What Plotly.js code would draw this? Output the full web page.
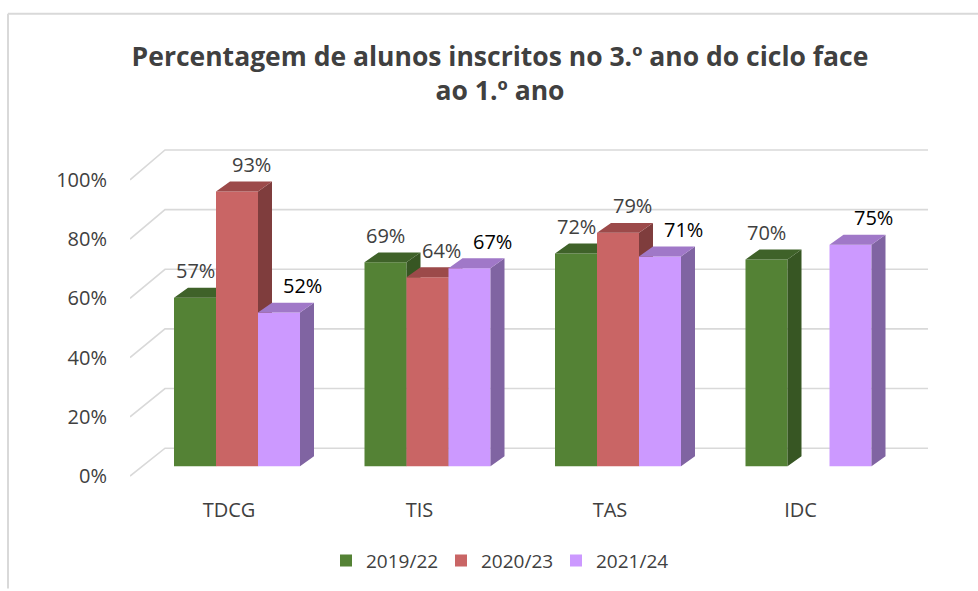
<!DOCTYPE html>
<html><head><meta charset="utf-8">
<script src="https://cdn.plot.ly/plotly-3.0.1.min.js"></script>
<style>html,body{margin:0;padding:0;background:#fff;}</style>
</head><body><div id="chart" style="width:978px;height:591px;"></div>
<script>
// ---------------- DATA ----------------
const categories = ['TDCG', 'TIS', 'TAS', 'IDC'];
const seriesNames = ['2019/22', '2020/23', '2021/24'];
const values2019 = [57, 69, 72, 70];
const values2020 = [93, 64, 79, null];
const values2021 = [52, 67, 71, 75];
const yTickVals = [0, 20, 40, 60, 80, 100];
const yTickText = ['0%', '20%', '40%', '60%', '80%', '100%'];

// ---------------- STYLE ----------------
const FONT = 'Open Sans, Noto Sans, sans-serif';
const TEXT = '#404040';
const seriesValues = [values2019, values2020, values2021];
const faceColors = [
  {front: '#548235', side: '#375623', top: '#3f6229', label: '#404040', lx: 0},
  {front: '#c96565', side: '#7f3d3d', top: '#9c4a4a', label: '#404040', lx: 14},
  {front: '#cc99ff', side: '#8064a2', top: '#a078c8', label: '#000000', lx: 23}
];

// plot-area geometry (pixel scale of the axes)
const PX_PER_CAT = 190.5;          // px per category unit
const PX_PER_PCT = 2.97;           // px per percent on bar scale
const BAR_W = 42 / PX_PER_CAT;     // bar width in category units
const DEPTH_X = 14 / PX_PER_CAT;   // 3D depth offset
const DEPTH_Y = 10 / PX_PER_PCT;
const X_RANGE = [-0.56168, 3.63780];
const Y_RANGE = [-7.4074, 110.438];
const Y2_RANGE = [-4.0268, 113.4228];

const traces = [];

// 3D gridlines (front-left diagonal + back wall line) built from tick values
(function () {
  const gx = [], gy = [];
  const xFront = X_RANGE[0], xBack = -72 / PX_PER_CAT, xEnd = 691 / PX_PER_CAT;
  yTickVals.forEach(v => {
    const yFront = (2.98 * v - 10) / PX_PER_PCT;
    const yBack = (18 + 3 * v) / PX_PER_PCT;
    gx.push(xFront, xBack, xEnd, null);
    gy.push(yFront, yBack, yBack, null);
  });
  traces.push({type: 'scatter', mode: 'lines', x: gx, y: gy, line: {color: '#d9d9d9', width: 1.6},
    hoverinfo: 'skip', showlegend: false});
})();

// 3D bars: front, side and top faces per series, drawn in series order
seriesValues.forEach((vals, s) => {
  const fx = [], fy = [], sx = [], sy = [], tx = [], ty = [];
  vals.forEach((v, i) => {
    if (v === null || v === undefined) return;
    const x0 = i + (s - 1.5) * BAR_W, x1 = x0 + BAR_W;
    fx.push(x0, x1, x1, x0, x0, null); fy.push(0, 0, v, v, 0, null);
    sx.push(x1, x1 + DEPTH_X, x1 + DEPTH_X, x1, x1, null);
    sy.push(0, DEPTH_Y, v + DEPTH_Y, v, 0, null);
    tx.push(x0, x1, x1 + DEPTH_X, x0 + DEPTH_X, x0, null);
    ty.push(v, v, v + DEPTH_Y, v + DEPTH_Y, v, null);
  });
  const c = faceColors[s];
  [[fx, fy, c.front], [sx, sy, c.side], [tx, ty, c.top]].forEach(([xx, yy, col]) => {
    traces.push({type: 'scatter', mode: 'lines', x: xx, y: yy, fill: 'toself', fillcolor: col,
      line: {width: 0, color: col}, hoverinfo: 'skip', showlegend: false});
  });
});

// legend entries
seriesNames.forEach((n, s) => {
  traces.push({type: 'bar', x: [null], y: [null], name: n, marker: {color: faceColors[s].front}});
});
// invisible trace to activate y2 axis
traces.push({type: 'scatter', x: [null], y: [null], yaxis: 'y2', showlegend: false, hoverinfo: 'skip'});

// data labels
const annotations = [];
seriesValues.forEach((vals, s) => {
  vals.forEach((v, i) => {
    if (v === null || v === undefined) return;
    const xc = i + (s - 1) * BAR_W + faceColors[s].lx / PX_PER_CAT;
    annotations.push({x: xc, y: v, xref: 'x', yref: 'y', text: v + '%', showarrow: false,
      yshift: 27, yanchor: 'middle', xanchor: 'center',
      font: {family: FONT, size: 20, color: faceColors[s].label}});
  });
});

const pxToPaperX = px => (px - 130) / 800;
const pxToPaperY = py => (490 - py) / 350;

const layout = {
  width: 978, height: 591,
  margin: {l: 130, r: 48, t: 140, b: 101},
  paper_bgcolor: '#ffffff', plot_bgcolor: 'rgba(0,0,0,0)',
  hovermode: false,
  showlegend: true,
  title: {
    text: 'Percentagem de alunos inscritos no 3.º ano do ciclo face<br>ao 1.º ano',
    font: {family: FONT, size: 26.5, color: TEXT, weight: 'bold'},
    xref: 'container', x: 500 / 978, xanchor: 'center',
    yref: 'container', y: 1 - 66 / 591, yanchor: 'top'
  },
  xaxis: {
    range: X_RANGE, showgrid: false, zeroline: false, showline: false,
    tickmode: 'array', tickvals: categories.map((c, i) => i - 8 / PX_PER_CAT), ticktext: categories,
    ticks: 'outside', ticklen: 4, tickcolor: 'rgba(0,0,0,0)',
    tickfont: {family: FONT, size: 20, color: TEXT}, fixedrange: true
  },
  yaxis: {range: Y_RANGE, showgrid: false, zeroline: false, showline: false, showticklabels: false, fixedrange: true},
  yaxis2: {
    range: Y2_RANGE, overlaying: 'y', side: 'left', showgrid: false, zeroline: false, showline: false,
    tickmode: 'array', tickvals: yTickVals, ticktext: yTickText,
    ticks: 'outside', ticklen: 18, tickcolor: 'rgba(0,0,0,0)',
    tickfont: {family: FONT, size: 20, color: TEXT}, fixedrange: true
  },
  legend: {
    orientation: 'h', x: pxToPaperX(326), xanchor: 'left', y: pxToPaperY(563), yanchor: 'middle',
    font: {family: FONT, size: 19, color: TEXT}, entrywidth: 70, traceorder: 'normal',
    bgcolor: 'rgba(0,0,0,0)'
  },
  annotations: annotations,
  shapes: [
    {type: 'line', xref: 'paper', yref: 'paper', x0: pxToPaperX(8), x1: pxToPaperX(978), y0: pxToPaperY(13), y1: pxToPaperY(13), line: {color: '#d9d9d9', width: 2}},
    {type: 'line', xref: 'paper', yref: 'paper', x0: pxToPaperX(8), x1: pxToPaperX(8), y0: pxToPaperY(13), y1: pxToPaperY(591), line: {color: '#d9d9d9', width: 2}}
  ]
};

Plotly.newPlot('chart', traces, layout, {displayModeBar: false, staticPlot: true});
</script>
</body></html>
